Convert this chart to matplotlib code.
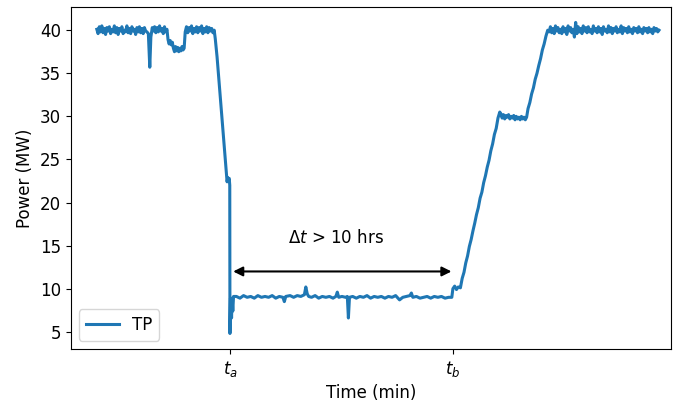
import matplotlib
matplotlib.use("Agg")
import matplotlib.pyplot as plt
import numpy as np

# ---- Data (time in min, power in MW) ----
# Uniformly sampled stretches: (start, end) time and the sampled power values
plateau_start_span = (0, 140)
plateau_start = [
    40.1, 39.6, 40.4, 39.8, 40.5, 39.7, 40.2, 39.5, 40.3, 39.9,
    40.4, 39.6, 40.1, 39.8, 40.5, 39.7, 40.3, 39.5, 40.2, 39.9,
    40.4, 39.6, 40.0, 39.8, 40.5, 39.7, 40.2, 39.6, 40.4, 39.9,
    40.1, 39.5, 40.3, 39.8, 40.4, 39.7, 40.2, 39.6, 40.3, 39.9,
    39.8,
]
dip_t = [144, 148, 151, 155]
dip_p = [39.6, 35.7, 39.2, 40.3]
plateau_b_span = (158, 196)
plateau_b = [39.9, 40.4, 39.7, 40.3, 39.8, 40.5, 39.9, 40.2, 39.6, 40.4, 39.8, 40.1]
sag_t = [199, 202, 205, 208, 211, 214, 217, 220, 223, 226, 229, 232, 235, 238, 241, 244]
sag_p = [38.9, 38.4, 38.8, 38.3, 38.6, 37.9, 37.5, 38.1, 37.6, 38.0, 37.5, 37.9, 37.6, 38.1, 37.7, 37.9]
plateau_c_span = (247, 328)
plateau_c = [
    39.8, 40.4, 39.7, 40.3, 39.9, 40.5, 39.6, 40.2, 39.8, 40.4, 39.7, 40.3,
    39.9, 40.5, 39.6, 40.2, 39.8, 40.4, 39.7, 40.3, 39.9, 40.2, 39.7, 40.0,
]
drop_t = [331, 336, 342, 348, 354, 360, 364, 366, 368, 370, 371.5,
          372, 373.5, 375, 376.5, 378, 380, 382]
drop_p = [39.0, 36.9, 33.8, 30.7, 27.6, 24.5, 22.4, 22.9, 22.6, 22.8, 22.0,
          4.8, 8.9, 8.2, 6.6, 8.9, 7.4, 9.1]
low_t = [
    390, 400, 410, 420, 430, 440, 450, 460, 470, 480, 490, 500, 510, 520, 524, 528,
    540, 550, 560, 570, 580, 584, 588, 592, 600, 610, 620, 630, 640, 650, 660, 668,
    672, 676, 685, 695, 700, 703, 706, 715, 725, 735, 745, 755, 765, 775, 785, 795,
    805, 815, 825, 835, 846, 855, 865, 875, 879, 883, 893, 903, 913, 923, 933, 943,
    953, 963, 973, 983, 992,
]
low_p = [
    9.1, 8.9, 9.2, 9.0, 9.1, 8.9, 9.2, 9.0, 9.1, 9.0, 9.2, 8.9, 9.1, 9.0, 8.5, 9.1,
    9.2, 9.0, 9.2, 9.1, 9.3, 10.2, 9.4, 9.1, 9.0, 9.2, 8.9, 9.1, 9.0, 9.1, 8.9, 9.1,
    9.6, 9.0, 9.1, 9.0, 9.1, 6.6, 9.0, 9.1, 8.9, 9.1, 9.0, 9.2, 8.9, 9.1, 9.0, 9.1,
    8.9, 9.1, 9.0, 9.2, 8.7, 9.0, 9.1, 9.2, 9.5, 9.0, 9.1, 8.9, 9.0, 9.1, 8.9, 9.1,
    9.0, 9.1, 8.9, 9.0, 9.0,
]
step_t = [995, 1000, 1005, 1010, 1016]
step_p = [10.0, 10.3, 9.9, 10.2, 10.1]
ramp1_t = [1021, 1026, 1031, 1036, 1041, 1046, 1051, 1056, 1061, 1066, 1071,
           1076, 1081, 1086, 1091, 1096, 1101, 1106, 1111, 1116, 1121, 1126]
ramp1_p = [11.2, 11.9, 13.0, 13.8, 14.9, 15.7, 16.7, 17.6, 18.6, 19.4, 20.5,
           21.2, 22.3, 23.1, 24.1, 24.9, 26.0, 26.8, 27.9, 28.6, 29.8, 30.5]
plateau_30_span = (1129, 1201)
plateau_30 = [30.3, 29.8, 30.2, 29.7, 30.1, 29.9, 30.2, 29.7, 30.0, 29.8, 30.1,
              29.6, 30.0, 29.7, 29.9, 29.6, 30.0, 29.7, 29.9, 29.6, 29.9]
ramp2_t = [1205, 1210, 1215, 1220, 1225, 1230, 1235, 1240, 1245, 1250, 1255, 1260]
ramp2_p = [30.9, 31.6, 32.6, 33.3, 34.3, 35.0, 35.9, 36.7, 37.7, 38.4, 39.3, 40.0]
plateau_end_span = (1264, 1571)
plateau_end = [
    39.8, 40.4, 39.7, 40.2, 39.6, 40.5, 39.9, 40.3, 39.7, 40.1,
    39.6, 40.4, 39.8, 40.2, 39.5, 40.5, 39.9, 40.3, 39.7, 40.1,
    39.2, 40.9, 39.6, 40.4, 39.8, 40.2, 39.6, 40.5, 39.9, 40.3,
    39.7, 40.4, 39.8, 40.1, 39.6, 40.5, 39.9, 40.2, 39.7, 40.4,
    39.8, 40.2, 39.5, 40.4, 39.9, 40.1, 39.7, 40.5, 39.8, 40.3,
    39.6, 40.2, 39.9, 40.4, 39.7, 40.1, 39.8, 40.5, 39.6, 40.3,
    39.9, 40.2, 39.7, 40.4, 39.8, 40.1, 39.6, 40.3, 39.9, 40.2,
    39.7, 40.4, 39.8, 40.1, 39.6, 40.3, 39.9, 40.2, 39.7, 40.3,
    39.8, 40.1, 39.6, 40.3, 39.9, 40.2, 39.8, 40.0,
]

t_a = 372
t_b = 994
tick_positions = [t_a, t_b]
tick_labels = [r"$t_a$", r"$t_b$"]
arrow_y = 12.0
arrow_x = [381, 991]
label_text = r"$\Delta t$ > 10 hrs"


def span(s, vals):
    return list(np.linspace(s[0], s[1], len(vals)))


time_min = (span(plateau_start_span, plateau_start) + dip_t
            + span(plateau_b_span, plateau_b) + sag_t
            + span(plateau_c_span, plateau_c) + drop_t + low_t + step_t
            + ramp1_t + span(plateau_30_span, plateau_30) + ramp2_t
            + span(plateau_end_span, plateau_end))
power_mw = (plateau_start + dip_p + plateau_b + sag_p + plateau_c + drop_p
            + low_p + step_p + ramp1_p + plateau_30 + ramp2_p + plateau_end)

fig = plt.figure(figsize=(6.74, 4.04), dpi=100)
ax = fig.add_axes([0.105, 0.136, 0.8905, 0.847])

ax.plot(time_min, power_mw, color="#1f77b4", lw=2.2, label="TP")

ax.annotate("", xy=(arrow_x[1], arrow_y), xytext=(arrow_x[0], arrow_y),
            arrowprops=dict(arrowstyle="<|-|>", color="k", lw=1.5,
                            mutation_scale=14, shrinkA=0, shrinkB=0))
ax.text(669, 15.9, label_text, fontsize=12, ha="center", va="center")

ax.set_xlim(-72.8, 1604.4)
ax.set_xticks(tick_positions)
ax.set_xticklabels(tick_labels, fontsize=12)
ax.set_yticks([5, 10, 15, 20, 25, 30, 35, 40])
ax.tick_params(axis="y", labelsize=12)
ax.set_xlabel("Time (min)", fontsize=12)
ax.set_ylabel("Power (MW)", fontsize=12)
ax.legend(loc="lower left", fontsize=12)

fig.savefig("out.png", dpi=100)
